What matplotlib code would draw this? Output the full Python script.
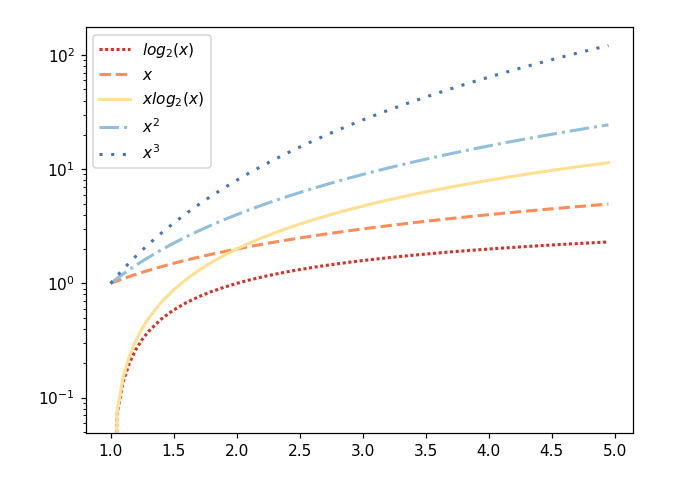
import numpy as np
import matplotlib
matplotlib.use("Agg")
import matplotlib.pyplot as plt

# values (x grid and the five curves)
x = [1.0, 1.05, 1.1, 1.15, 1.2, 1.25, 1.3, 1.4, 1.5, 1.6, 1.7, 1.8, 1.9, 2.0,
     2.1, 2.2, 2.3, 2.4, 2.5, 2.6, 2.7, 2.8, 2.9, 3.0, 3.1, 3.2, 3.3, 3.4,
     3.5, 3.6, 3.7, 3.8, 3.9, 4.0, 4.1, 4.2, 4.3, 4.4, 4.5, 4.6, 4.7, 4.8,
     4.9, 4.95]

log2_x = [0.0, 0.0704, 0.1375, 0.2016, 0.2630, 0.3219, 0.3785, 0.4854, 0.5850,
          0.6781, 0.7655, 0.8480, 0.9260, 1.0, 1.0704, 1.1375, 1.2016, 1.2630,
          1.3219, 1.3785, 1.4330, 1.4854, 1.5361, 1.5850, 1.6323, 1.6781,
          1.7225, 1.7655, 1.8074, 1.8480, 1.8875, 1.9260, 1.9635, 2.0, 2.0356,
          2.0704, 2.1043, 2.1375, 2.1699, 2.2016, 2.2327, 2.2630, 2.2928, 2.3074]

lin_x = [1.0, 1.05, 1.1, 1.15, 1.2, 1.25, 1.3, 1.4, 1.5, 1.6, 1.7, 1.8, 1.9, 2.0,
         2.1, 2.2, 2.3, 2.4, 2.5, 2.6, 2.7, 2.8, 2.9, 3.0, 3.1, 3.2, 3.3, 3.4,
         3.5, 3.6, 3.7, 3.8, 3.9, 4.0, 4.1, 4.2, 4.3, 4.4, 4.5, 4.6, 4.7, 4.8,
         4.9, 4.95]

xlog2_x = [0.0, 0.0739, 0.1513, 0.2319, 0.3156, 0.4024, 0.4921, 0.6796, 0.8774,
           1.0849, 1.3014, 1.5264, 1.7594, 2.0, 2.2478, 2.5025, 2.7637, 3.0313,
           3.3048, 3.5841, 3.8690, 4.1592, 4.4545, 4.7549, 5.0600, 5.3698,
           5.6842, 6.0028, 6.3257, 6.6528, 6.9839, 7.3188, 7.6575, 8.0, 8.3460,
           8.6956, 9.0487, 9.4050, 9.7647, 10.1275, 10.4935, 10.8625, 11.2346,
           11.4217]

sq_x = [1.0, 1.1025, 1.21, 1.3225, 1.44, 1.5625, 1.69, 1.96, 2.25, 2.56, 2.89,
        3.24, 3.61, 4.0, 4.41, 4.84, 5.29, 5.76, 6.25, 6.76, 7.29, 7.84, 8.41,
        9.0, 9.61, 10.24, 10.89, 11.56, 12.25, 12.96, 13.69, 14.44, 15.21, 16.0,
        16.81, 17.64, 18.49, 19.36, 20.25, 21.16, 22.09, 23.04, 24.01, 24.50]

cube_x = [1.0, 1.158, 1.331, 1.521, 1.728, 1.953, 2.197, 2.744, 3.375, 4.096,
          4.913, 5.832, 6.859, 8.0, 9.261, 10.648, 12.167, 13.824, 15.625,
          17.576, 19.683, 21.952, 24.389, 27.0, 29.791, 32.768, 35.937, 39.304,
          42.875, 46.656, 50.653, 54.872, 59.319, 64.0, 68.921, 74.088, 79.507,
          85.184, 91.125, 97.336, 103.823, 110.592, 117.649, 121.287]

labels = ["$log_2(x)$", "$x$", "$xlog_2(x)$", "$x^2$", "$x^3$"]
colors = ["#d73027", "#fc8d59", "#fee090", "#91bfdb", "#4575b4"]

dpi = 110.5
fig = plt.figure(figsize=(700 / dpi, 494 / dpi), dpi=dpi)
ax = fig.add_axes([0.1224, 0.1225, 0.9047 - 0.1224, 0.9453 - 0.1225])

ax.plot(x, log2_x, color=colors[0], lw=2, ls=(0, (1, 0.85)), label=labels[0])
ax.plot(x, lin_x, color=colors[1], lw=2, ls="--", label=labels[1])
ax.plot(x, xlog2_x, color=colors[2], lw=2, ls="-", label=labels[2])
ax.plot(x, sq_x, color=colors[3], lw=2, ls="-.", label=labels[3])
ax.plot(x, cube_x, color=colors[4], lw=2, ls=(0, (1, 2.8)), label=labels[4])

ax.set_yscale("log")
ax.legend(loc="upper left")

fig.savefig("out.png", dpi=dpi)
